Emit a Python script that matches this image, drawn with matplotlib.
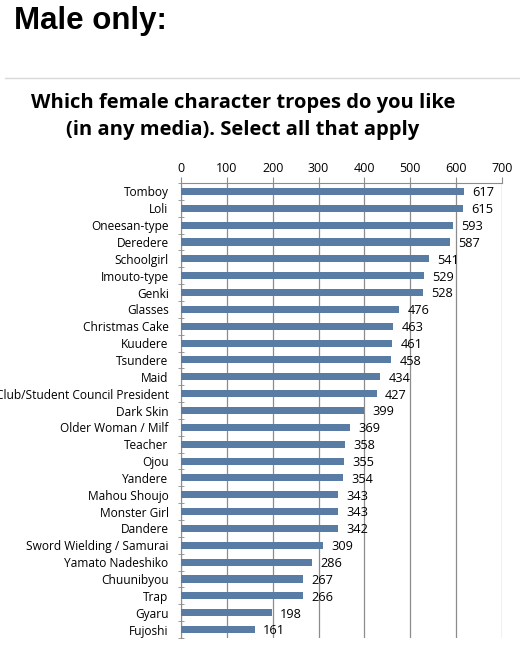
import matplotlib.pyplot as plt
import numpy as np

# survey data (male respondents)
tropes = ["Tomboy", "Loli", "Oneesan-type", "Deredere", "Schoolgirl", "Imouto-type",
          "Genki", "Glasses", "Christmas Cake", "Kuudere", "Tsundere", "Maid",
          "Club/Student Council President", "Dark Skin", "Older Woman / Milf",
          "Teacher", "Ojou", "Yandere", "Mahou Shoujo", "Monster Girl", "Dandere",
          "Sword Wielding / Samurai", "Yamato Nadeshiko", "Chuunibyou", "Trap",
          "Gyaru", "Fujoshi"]
votes = [617, 615, 593, 587, 541, 529, 528, 476, 463, 461, 458, 434, 427, 399,
         369, 358, 355, 354, 343, 343, 342, 309, 286, 267, 266, 198, 161]
xticks = [0, 100, 200, 300, 400, 500, 600, 700]

bar_color = "#587ca3"
grid_color = "#8c8c8c"

fig = plt.figure(figsize=(5.2, 6.5), dpi=100)

# page header and separator line
fig.text(14 / 520, 1 - 21 / 650, "Male only:", family="Liberation Sans",
         weight="bold", fontsize=22.5, va="center", ha="left")
fig.add_artist(plt.Line2D([5 / 520, 1], [1 - 78 / 650, 1 - 78 / 650],
                          color="#d8d8d8", lw=1))

fig.text(243 / 520, 1 - 103 / 650, "Which female character tropes do you like",
         family="Open Sans", weight="bold", fontsize=14.5, ha="center", va="center")
fig.text(243 / 520, 1 - 130 / 650, "(in any media). Select all that apply",
         family="Open Sans", weight="bold", fontsize=14.5, ha="center", va="center")

ax = fig.add_axes([181 / 520, 1 - 638 / 650, (502 - 181) / 520, (638 - 183) / 650])

n = len(tropes)
y = np.arange(n)
ax.barh(y, votes, height=0.42, color=bar_color, zorder=3)

for yi, v in zip(y, votes):
    ax.annotate(str(v), (v, yi), xytext=(6, -1), textcoords="offset points",
                va="center", ha="left", fontsize=9.2, family="Open Sans")

ax.set_xlim(0, 700)
ax.set_ylim(n - 0.5, -0.5)
ax.set_xticks(xticks)
ax.xaxis.tick_top()
ax.tick_params(axis="x", length=4, color=grid_color, labelsize=9, pad=2)
for lab in ax.get_xticklabels():
    lab.set_family("Open Sans")

# category labels centred on bars, tick marks on the boundaries
ax.set_yticks(y)
ax.set_yticklabels(tropes, family="Open Sans", fontsize=8.6)
ax.tick_params(axis="y", which="major", length=0, pad=9)
ax.set_yticks(np.arange(n + 1) - 0.5, minor=True)
ax.tick_params(axis="y", which="minor", length=4, color=grid_color, direction="inout")

ax.grid(axis="x", color=grid_color, lw=0.9, zorder=0)
for side in ["top", "left"]:
    ax.spines[side].set_color(grid_color)
for side in ["bottom", "right"]:
    ax.spines[side].set_visible(False)

fig.savefig("out.png", dpi=100)
